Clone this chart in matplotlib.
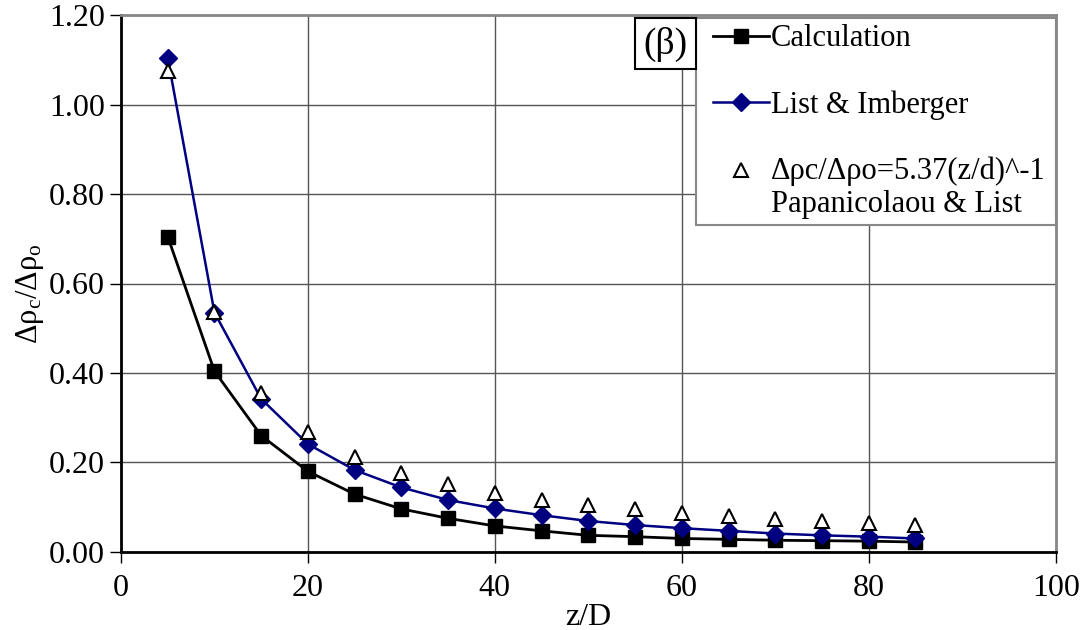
import matplotlib
matplotlib.use("Agg")
import matplotlib.pyplot as plt
from matplotlib.patches import Rectangle

plt.rcParams['font.family'] = ['Liberation Serif', 'DejaVu Serif']
plt.rcParams['mathtext.fontset'] = 'custom'
plt.rcParams['mathtext.rm'] = 'Liberation Serif'
plt.rcParams['mathtext.it'] = 'Liberation Serif:italic'

# z/D stations
z_d = [5, 10, 15, 20, 25, 30, 35, 40, 45, 50, 55, 60, 65, 70, 75, 80, 85]

# centreline density difference ratio
calculation = [0.705, 0.404, 0.260, 0.180, 0.129, 0.096, 0.075, 0.058, 0.047,
               0.037, 0.034, 0.030, 0.028, 0.026, 0.025, 0.024, 0.022]
list_imberger = [1.105, 0.535, 0.342, 0.241, 0.183, 0.144, 0.116, 0.097, 0.082,
                 0.069, 0.060, 0.053, 0.047, 0.041, 0.037, 0.034, 0.030]
papanicolaou = [1.074, 0.537, 0.356, 0.267, 0.212, 0.177, 0.151, 0.132, 0.117,
                0.105, 0.096, 0.087, 0.080, 0.073, 0.069, 0.064, 0.061]

x_ticks = [0, 20, 40, 60, 80, 100]
y_ticks = [0.0, 0.2, 0.4, 0.6, 0.8, 1.0, 1.2]

fig = plt.figure(figsize=(10.85, 6.30), dpi=100)
ax = fig.add_axes([0.1115, 0.124, 0.8615, 0.852])

ax.plot(z_d, calculation, color='black', lw=2, marker='s', ms=10,
        mfc='black', mec='black', label='Calculation', zorder=4)
ax.plot(z_d, list_imberger, color='#000080', lw=1.8, marker='D', ms=9,
        mfc='#000080', mec='#000080', label='List & Imberger', zorder=5)
ax.plot(z_d, papanicolaou, ls='none', marker='^', ms=10, mfc='white',
        mec='black', mew=1.5,
        label='Δρc/Δρo=5.37(z/d)^-1\nPapanicolaou & List', zorder=6)

ax.set_xlim(0, 100)
ax.set_ylim(0, 1.2)
ax.set_xticks(x_ticks)
ax.set_yticks(y_ticks)
ax.set_yticklabels([f'{v:.2f}' for v in y_ticks])
ax.tick_params(direction='out', length=8, width=1, labelsize=23)
ax.tick_params(axis='x', pad=8)

ax.grid(True, color='#555555', lw=1)
ax.set_axisbelow(True)
for side in ['left', 'bottom']:
    ax.spines[side].set_color('black')
    ax.spines[side].set_linewidth(2)
for side in ['top', 'right']:
    ax.spines[side].set_color('#888888')
    ax.spines[side].set_linewidth(2)

ax.set_xlabel('z/D', fontsize=23)
ax.xaxis.set_label_coords(0.5, -0.095)
ax.set_ylabel(r'Δρ$_\mathrm{c}$/Δρ$_\mathrm{o}$', fontsize=22)
ax.yaxis.set_label_coords(-0.08, 0.482)

leg = ax.legend(loc='upper left', bbox_to_anchor=(0.615, 0.622, 0.385, 0.372),
                mode='expand', borderaxespad=0, fontsize=22, frameon=True,
                fancybox=False, edgecolor='#888888', framealpha=1,
                handlelength=2.2, handletextpad=0.05, labelspacing=1.2,
                borderpad=0.2)
leg.get_frame().set_linewidth(1.5)
leg.set_zorder(10)

# shorten the line handles from the left, keeping the marker centred
for h in leg.legend_handles[:2]:
    xs = list(h.get_xdata())
    x0 = xs[0] + 8
    h.set_xdata([x0, (x0 + xs[-1]) / 2, xs[-1]])

# put the triangle level with the first line of its two-line label
tri = leg.legend_handles[2]
tri.set_xdata([x + 4 for x in tri.get_xdata()])
tri.set_ydata([y + 13 for y in tri.get_ydata()])

# panel tag
ax.add_patch(Rectangle((0.550, 0.899), 0.065, 0.095, transform=ax.transAxes,
                       facecolor='white', edgecolor='black', lw=1.5, zorder=11))
ax.text(0.5825, 0.946, '(β)', transform=ax.transAxes, fontsize=27,
        ha='center', va='center', zorder=12)

fig.savefig('out.png', dpi=100)
